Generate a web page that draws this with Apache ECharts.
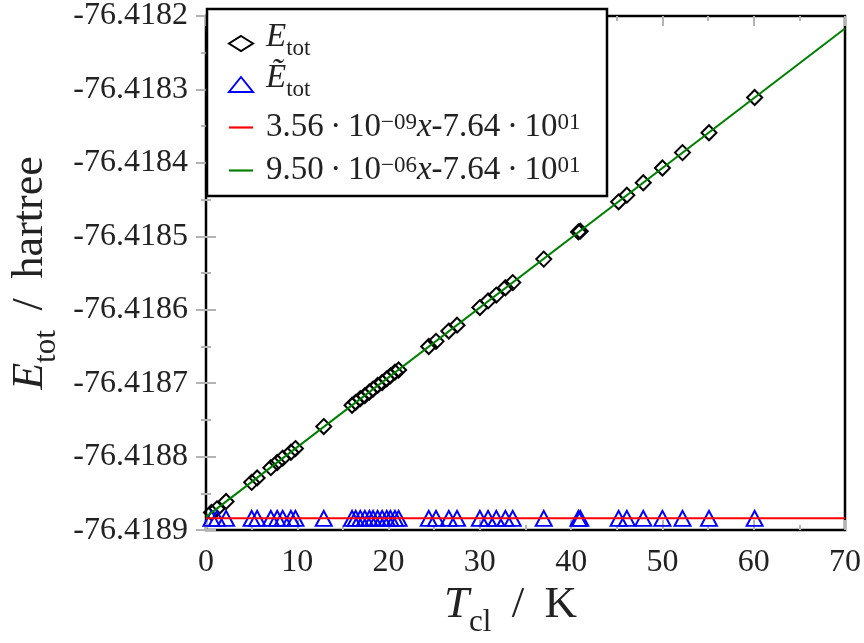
<!DOCTYPE html>
<html>
<head>
<meta charset="utf-8">
<script src="https://cdn.jsdelivr.net/npm/echarts@6/dist/echarts.min.js"></script>
<style>
  html, body { margin: 0; background: #fff; }
  #chart { width: 864px; height: 643px; }
</style>
</head>
<body>
<div id="chart"></div>
<script>
// 温度 (K)，从图中标记位置读出
const tempK = [0.6, 1.2, 2.2, 5.0, 5.6, 7.1, 7.8, 8.4, 9.3, 9.8,
               12.9, 16.0, 16.4, 16.9, 17.4, 17.9, 18.3, 18.8, 19.3, 19.8,
               20.2, 20.7, 21.1, 24.4, 25.2, 26.6, 27.5, 30.0, 30.9, 31.8,
               32.8, 33.6, 37.0, 40.8, 41.0, 45.2, 46.1, 47.9, 50.0, 52.2,
               55.1, 60.1];
// E_tot (hartree)
const eTot = [-76.418876, -76.418871, -76.418861, -76.418835, -76.418829, -76.418815, -76.418808, -76.418802, -76.418794, -76.418789,
              -76.418759, -76.418730, -76.418726, -76.418721, -76.418717, -76.418712, -76.418708, -76.418703, -76.418699, -76.418694,
              -76.418690, -76.418685, -76.418682, -76.418650, -76.418643, -76.418629, -76.418621, -76.418597, -76.418588, -76.418580,
              -76.418570, -76.418563, -76.418531, -76.418494, -76.418493, -76.418453, -76.418444, -76.418427, -76.418407, -76.418386,
              -76.418359, -76.418311];
// Ẽ_tot (hartree)，基本不随温度变化
const eTilde = [-76.418884, -76.418884, -76.418884, -76.418884, -76.418884, -76.418884, -76.418884, -76.418884, -76.418884, -76.418884,
                -76.418884, -76.418884, -76.418884, -76.418884, -76.418884, -76.418884, -76.418884, -76.418884, -76.418884, -76.418884,
                -76.418884, -76.418884, -76.418884, -76.418884, -76.418884, -76.418884, -76.418884, -76.418884, -76.418884, -76.418884,
                -76.418884, -76.418884, -76.418884, -76.418884, -76.418884, -76.418884, -76.418884, -76.418884, -76.418884, -76.418884,
                -76.418884, -76.418884];
// 两条拟合直线的端点
const fitX = [0, 70];
const fitRedY = [-76.418884, -76.418884];
const fitGreenY = [-76.418882, -76.418217];
// 坐标轴刻度
const xTicks = [0, 10, 20, 30, 40, 50, 60, 70];
const yTicks = [-76.4189, -76.4188, -76.4187, -76.4186, -76.4185, -76.4184, -76.4183, -76.4182];

const FONT = 'Liberation Serif';
const TICK_GRAY = '#b3b3b3';
const TEXT = '#222';
const LINE_ICON = 'path://M0,0H22V2H0Z'; // 图例中的短横线

const zip = (xs, ys) => xs.map((x, i) => [x, ys[i]]);

// 图例文字（仿 LaTeX 上下标）
const legendLabels = {
    'Etot': '{i|E}{sub|tot}',
    'Etilde': '{i|Ẽ}{sub|tot}',
    'fitRed': '{n|3.56\u2009·\u200910}{sup|−09}{m|x}{n|-7.64\u2009·\u200910}{sup|01}',
    'fitGreen': '{n|9.50\u2009·\u200910}{sup|−06}{m|x}{n|-7.64\u2009·\u200910}{sup|01}'
};

function axisRich(size) {
    let subSize = Math.round(size * 0.7);
    return {
        i: { fontFamily: FONT, fontStyle: 'italic', fontSize: size, lineHeight: size, verticalAlign: 'bottom', padding: [0, 0, 10, 0], color: TEXT },
        n: { fontFamily: FONT, fontSize: size, lineHeight: size, verticalAlign: 'bottom', padding: [0, 0, 10, 0], color: TEXT },
        sub: { fontFamily: FONT, fontSize: subSize, lineHeight: subSize, verticalAlign: 'bottom', color: TEXT }
    };
}

function makeAxisBase(extra) {
    return Object.assign({
        type: 'value',
        axisLine: { show: false },
        splitLine: { show: false },
        axisTick: { inside: true, length: 10, lineStyle: { color: TICK_GRAY, width: 2 } },
        minorTick: { show: true, splitNumber: 2, length: 5, lineStyle: { color: TICK_GRAY, width: 2 } },
        axisLabel: { fontFamily: FONT, fontSize: 32, color: TEXT }
    }, extra);
}

let myChart = echarts.init(document.getElementById('chart'));

let option = {
    animation: false,
    backgroundColor: '#fff',
    grid: { left: 205, right: 17, top: 10, bottom: 110, show: true, borderColor: '#000', borderWidth: 2.5 },
    xAxis: [
        makeAxisBase({
            min: xTicks[0], max: xTicks[xTicks.length - 1], interval: xTicks[1] - xTicks[0],
            position: 'bottom',
            axisLabel: { fontFamily: FONT, fontSize: 32, color: TEXT, margin: 16 },
            name: '{i|T}{sub|cl}{n|\u2009 / \u2009K}',
            nameLocation: 'middle',
            nameGap: 48,
            nameTextStyle: { padding: [0, 30, 0, 0], rich: axisRich(45) }
        }),
        makeAxisBase({
            min: xTicks[0], max: xTicks[xTicks.length - 1], interval: xTicks[1] - xTicks[0],
            position: 'top', axisLabel: { show: false }
        })
    ],
    yAxis: [
        makeAxisBase({
            min: yTicks[0], max: yTicks[yTicks.length - 1], interval: 0.0001,
            position: 'left',
            axisLabel: { fontFamily: FONT, fontSize: 32, color: TEXT, margin: 18, formatter: v => v.toFixed(4) },
            name: '{i|E}{sub|tot}{n|\u2009 / \u2009hartree}',
            nameLocation: 'middle',
            nameGap: 144,
            nameTextStyle: { rich: axisRich(44) }
        }),
        makeAxisBase({
            min: yTicks[0], max: yTicks[yTicks.length - 1], interval: 0.0001,
            position: 'right', axisLabel: { show: false }
        })
    ],
    // 图例外框（盖住左上角的刻度）
    graphic: [{
        type: 'rect', z: 10,
        shape: { x: 207, y: 9, width: 400, height: 187 },
        style: { fill: '#fff', stroke: '#000', lineWidth: 2.5 }
    }],
    legend: {
        z: 20,
        orient: 'vertical',
        left: 223, top: 16,
        itemWidth: 24, itemHeight: 15, itemGap: 2,
        selectedMode: false,
        data: [
            { name: 'Etot', icon: 'diamond' },
            { name: 'Etilde', icon: 'triangle' },
            { name: 'fitRed', icon: LINE_ICON },
            { name: 'fitGreen', icon: LINE_ICON }
        ],
        formatter: name => legendLabels[name],
        textStyle: {
            padding: [0, 0, 0, 8],
            rich: {
                i: { fontFamily: FONT, fontStyle: 'italic', fontSize: 33, lineHeight: 33, verticalAlign: 'bottom', padding: [0, 0, 6, 0], color: TEXT },
                sub: { fontFamily: FONT, fontSize: 23, lineHeight: 23, verticalAlign: 'bottom', color: TEXT },
                n: { fontFamily: FONT, fontSize: 33, lineHeight: 33, verticalAlign: 'bottom', padding: [8, 0, 0, 0], color: TEXT },
                m: { fontFamily: FONT, fontStyle: 'italic', fontSize: 33, lineHeight: 33, verticalAlign: 'bottom', padding: [8, 0, 0, 0], color: TEXT },
                sup: { fontFamily: FONT, fontSize: 23, lineHeight: 23, verticalAlign: 'top', color: TEXT }
            }
        }
    },
    series: [
        {
            name: 'Etot', type: 'scatter', z: 2,
            data: zip(tempK, eTot),
            symbol: 'diamond', symbolSize: 15,
            itemStyle: { color: 'rgba(0,0,0,0)', borderColor: '#000', borderWidth: 2, opacity: 1 }
        },
        {
            name: 'Etilde', type: 'scatter', z: 2,
            data: zip(tempK, eTilde),
            symbol: 'triangle', symbolSize: [16, 15],
            itemStyle: { color: 'rgba(0,0,0,0)', borderColor: '#0000ff', borderWidth: 2, opacity: 1 }
        },
        {
            name: 'fitRed', type: 'line', z: 3,
            data: zip(fitX, fitRedY),
            symbol: 'none', color: '#ff0000',
            lineStyle: { color: '#ff0000', width: 2 }
        },
        {
            name: 'fitGreen', type: 'line', z: 3,
            data: zip(fitX, fitGreenY),
            symbol: 'none', color: '#008000',
            lineStyle: { color: '#008000', width: 2 }
        }
    ]
};
myChart.setOption(option);
</script>
</body>
</html>
